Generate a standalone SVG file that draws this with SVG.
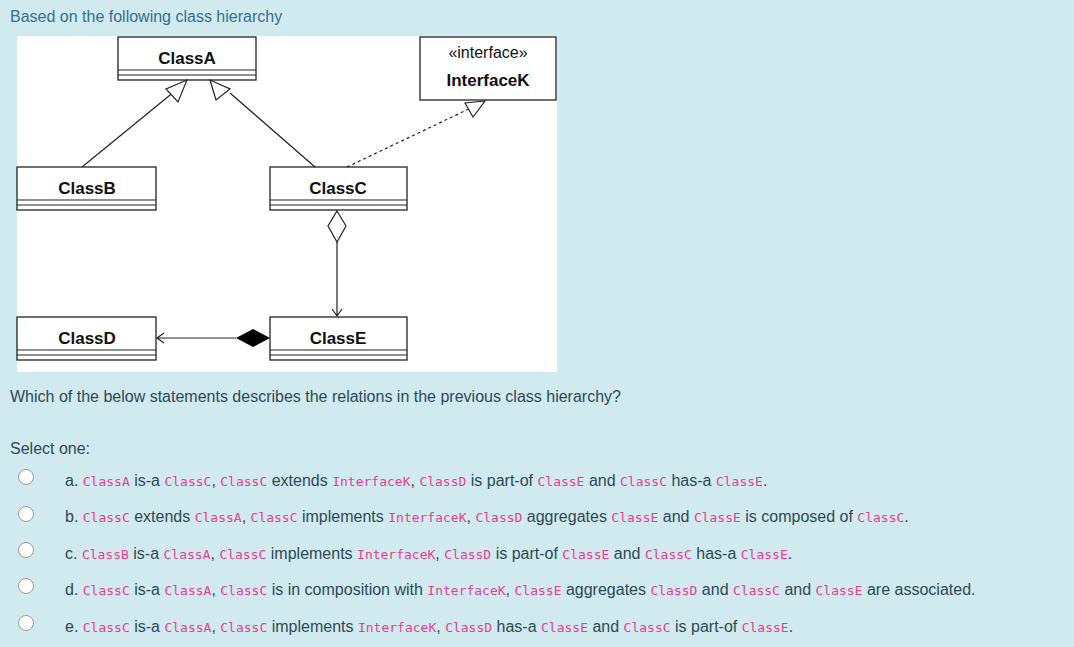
<svg xmlns="http://www.w3.org/2000/svg" width="1074" height="647" viewBox="0 0 1074 647">
<style>
.t{font-family:"Liberation Sans",Arial,sans-serif;font-size:16px;fill:#2d4955}
.c{font-family:"DejaVu Sans Mono",monospace;font-size:13px;fill:#e83e8c}
.n{font-family:"Liberation Sans",Arial,sans-serif;font-size:17px;font-weight:bold;fill:#111;text-anchor:middle}
.b{fill:#fff;stroke:#222;stroke-width:1.3}
.l{stroke:#222;stroke-width:1.2;fill:none}
.r{fill:#fff;stroke:#999;stroke-width:1}
</style>
<rect width="1074" height="647" fill="#d1eaf0"/>
<text x="10" y="22" class="t" fill="#31708f" style="fill:#31708f">Based on the following class hierarchy</text>
<rect x="17" y="36" width="540" height="336" fill="#fff"/>
<g id="ClassA"><rect class="b" x="118" y="37" width="138" height="43"/><path class="l" d="M118 70H256M118 75H256"/><text class="n" x="187" y="64">ClassA</text></g>
<g id="InterfaceK"><rect class="b" x="420" y="37" width="136" height="63"/><text x="488" y="58" text-anchor="middle" font-family="Liberation Sans,Arial,sans-serif" font-size="16" fill="#111">«interface»</text><text class="n" x="488" y="86">InterfaceK</text></g>
<g id="ClassB"><rect class="b" x="17" y="167" width="139" height="43"/><path class="l" d="M17 200H156M17 205H156"/><text class="n" x="87" y="194">ClassB</text></g>
<g id="ClassC"><rect class="b" x="251" y="167" width="156" height="43" style="display:none"/><rect class="b" x="251" y="167" width="0" height="0" style="display:none"/><rect class="b" x="251" y="167" width="0" height="0" style="display:none"/><rect class="b" x="251" y="167" width="0" height="0" style="display:none"/><rect class="b" x="251" y="167" width="0" height="0" style="display:none"/><rect class="b" x="251" y="167" width="0" height="0" style="display:none"/><rect class="b" x="270" y="167" width="137" height="43"/><path class="l" d="M270 200H407M270 205H407"/><text class="n" x="338" y="194">ClassC</text></g>
<g id="ClassD"><rect class="b" x="17" y="317" width="139" height="43"/><path class="l" d="M17 350H156M17 355H156"/><text class="n" x="87" y="344">ClassD</text></g>
<g id="ClassE"><rect class="b" x="270" y="317" width="137" height="43"/><path class="l" d="M270 350H407M270 355H407"/><text class="n" x="338" y="344">ClassE</text></g>
<g id="connectors">
<path class="l" d="M82 167L175 91"/><path class="l" fill="#fff" d="M187 80L166 89L178 102Z" style="fill:#fff"/>
<path class="l" d="M315 167L230 93"/><path class="l" d="M210 80L216 100L230 89Z" style="fill:#fff"/>
<path class="l" d="M347 167L473 107" stroke-dasharray="3,3"/><path class="l" d="M485 101L465 103L473 117Z" style="fill:#fff"/>
<path class="l" d="M337 211L346 226L337 242L328 226Z" style="fill:#fff"/>
<path class="l" d="M337 242V316M332 309L337 316L342 309"/>
<path d="M270 338L253 329L236 338L253 347Z" fill="#000"/>
<path class="l" d="M236 338H157M164 333L157 338L164 343"/>
</g>
<text x="10" y="402" class="t">Which of the below statements describes the relations in the previous class hierarchy?</text>
<text x="10" y="454" class="t">Select one:</text>
<circle class="r" cx="26" cy="477" r="7.5"/><circle class="r" cx="26" cy="514" r="7.5"/><circle class="r" cx="26" cy="550" r="7.5"/><circle class="r" cx="26" cy="586" r="7.5"/><circle class="r" cx="26" cy="623" r="7.5"/>
<text x="65" y="486" class="t">a. <tspan class="c">ClassA</tspan> is-a <tspan class="c">ClassC</tspan>, <tspan class="c">ClassC</tspan> extends <tspan class="c">InterfaceK</tspan>, <tspan class="c">ClassD</tspan> is part-of <tspan class="c">ClassE</tspan> and <tspan class="c">ClassC</tspan> has-a <tspan class="c">ClassE</tspan>.</text>
<text x="65" y="522" class="t">b. <tspan class="c">ClassC</tspan> extends <tspan class="c">ClassA</tspan>, <tspan class="c">ClassC</tspan> implements <tspan class="c">InterfaceK</tspan>, <tspan class="c">ClassD</tspan> aggregates <tspan class="c">ClassE</tspan> and <tspan class="c">ClassE</tspan> is composed of <tspan class="c">ClassC</tspan>.</text>
<text x="65" y="559" class="t">c. <tspan class="c">ClassB</tspan> is-a <tspan class="c">ClassA</tspan>, <tspan class="c">ClassC</tspan> implements <tspan class="c">InterfaceK</tspan>, <tspan class="c">ClassD</tspan> is part-of <tspan class="c">ClassE</tspan> and <tspan class="c">ClassC</tspan> has-a <tspan class="c">ClassE</tspan>.</text>
<text x="65" y="595" class="t">d. <tspan class="c">ClassC</tspan> is-a <tspan class="c">ClassA</tspan>, <tspan class="c">ClassC</tspan> is in composition with <tspan class="c">InterfaceK</tspan>, <tspan class="c">ClassE</tspan> aggregates <tspan class="c">ClassD</tspan> and <tspan class="c">ClassC</tspan> and <tspan class="c">ClassE</tspan> are associated.</text>
<text x="65" y="632" class="t">e. <tspan class="c">ClassC</tspan> is-a <tspan class="c">ClassA</tspan>, <tspan class="c">ClassC</tspan> implements <tspan class="c">InterfaceK</tspan>, <tspan class="c">ClassD</tspan> has-a <tspan class="c">ClassE</tspan> and <tspan class="c">ClassC</tspan> is part-of <tspan class="c">ClassE</tspan>.</text>
</svg>
